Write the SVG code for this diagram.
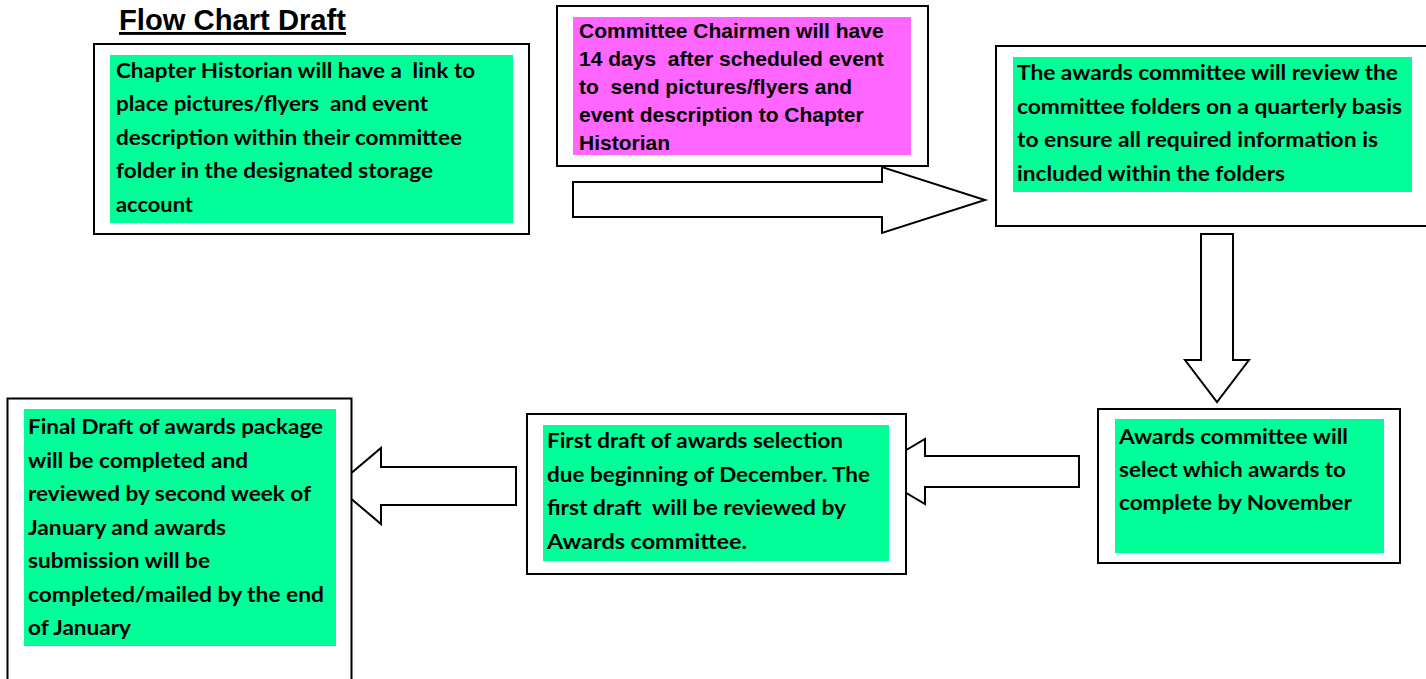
<svg xmlns="http://www.w3.org/2000/svg" width="1426" height="679" viewBox="0 0 1426 679">
<style>
.outer{fill:#fff;stroke:#000;stroke-width:2}
.green{fill:#00FF99}
.pink{fill:#FF66FF}
.arrow{fill:#fff;stroke:#000;stroke-width:2;stroke-linejoin:miter}
.cal{font-family:Lato,"Open Sans","DejaVu Sans",sans-serif;font-weight:bold;font-size:21px;fill:#000;white-space:pre}
.ari{font-family:"Liberation Sans",Arial,sans-serif;font-weight:bold;font-size:21px;fill:#000;white-space:pre}
.title{font-family:"Liberation Sans",Arial,sans-serif;font-weight:bold;font-size:29px;fill:#000;text-decoration:underline}
</style>
<rect width="1426" height="679" fill="#fff"/>
<text class="title" x="119" y="30" textLength="227" lengthAdjust="spacingAndGlyphs">Flow Chart Draft</text>
<g id="connectors">
<polygon class="arrow" points="573,182 882,182 882,167 985,200 882,233 882,217 573,217"/>
<polygon class="arrow" points="1201,234 1233,234 1233,360 1249,360 1217,402 1185,360 1201,360"/>
<polygon class="arrow" points="1079,456 925,456 925,439 870,471.5 925,504 925,487 1079,487"/>
<polygon class="arrow" points="516,467 381,467 381,448 336,486 381,524 381,505 516,505"/>
</g>
<g id="n1">
<rect class="outer" x="94" y="44" width="435" height="190"/>
<rect class="green" x="110" y="55" width="403" height="168"/>
<text class="cal" xml:space="preserve" x="116" y="78" textLength="359" lengthAdjust="spacingAndGlyphs">Chapter Historian will have a  link to</text>
<text class="cal" xml:space="preserve" x="116" y="111" textLength="312" lengthAdjust="spacingAndGlyphs">place pictures/flyers  and event</text>
<text class="cal" xml:space="preserve" x="116" y="145" textLength="346" lengthAdjust="spacingAndGlyphs">description within their committee</text>
<text class="cal" xml:space="preserve" x="116" y="178" textLength="317" lengthAdjust="spacingAndGlyphs">folder in the designated storage</text>
<text class="cal" xml:space="preserve" x="116" y="212" textLength="77" lengthAdjust="spacingAndGlyphs">account</text>
</g>
<g id="n2">
<rect class="outer" x="557" y="6" width="371" height="160"/>
<rect class="pink" x="573" y="17" width="338" height="138"/>
<text class="ari" xml:space="preserve" x="579" y="38">Committee Chairmen will have</text>
<text class="ari" xml:space="preserve" x="579" y="66">14 days  after scheduled event</text>
<text class="ari" xml:space="preserve" x="579" y="94">to  send pictures/flyers and</text>
<text class="ari" xml:space="preserve" x="579" y="122">event description to Chapter</text>
<text class="ari" xml:space="preserve" x="579" y="150">Historian</text>
</g>
<g id="n3">
<rect class="outer" x="996" y="46" width="440" height="180"/>
<rect class="green" x="1013" y="57" width="399" height="135"/>
<text class="cal" xml:space="preserve" x="1017" y="80" textLength="381" lengthAdjust="spacingAndGlyphs">The awards committee will review the</text>
<text class="cal" xml:space="preserve" x="1017" y="114" textLength="385" lengthAdjust="spacingAndGlyphs">committee folders on a quarterly basis</text>
<text class="cal" xml:space="preserve" x="1017" y="147" textLength="361" lengthAdjust="spacingAndGlyphs">to ensure all required information is</text>
<text class="cal" xml:space="preserve" x="1017" y="181" textLength="268" lengthAdjust="spacingAndGlyphs">included within the folders</text>
</g>
<g id="n4">
<rect class="outer" x="1098" y="409" width="302" height="154"/>
<rect class="green" x="1115" y="419" width="269" height="134"/>
<text class="cal" xml:space="preserve" x="1119" y="444" textLength="229" lengthAdjust="spacingAndGlyphs">Awards committee will</text>
<text class="cal" xml:space="preserve" x="1119" y="477" textLength="227" lengthAdjust="spacingAndGlyphs">select which awards to</text>
<text class="cal" xml:space="preserve" x="1119" y="510" textLength="233" lengthAdjust="spacingAndGlyphs">complete by November</text>
</g>
<g id="n5">
<rect class="outer" x="527" y="414" width="379" height="160"/>
<rect class="green" x="543" y="425" width="346" height="136"/>
<text class="cal" xml:space="preserve" x="547" y="448" textLength="296" lengthAdjust="spacingAndGlyphs">First draft of awards selection</text>
<text class="cal" xml:space="preserve" x="547" y="482" textLength="323" lengthAdjust="spacingAndGlyphs">due beginning of December. The</text>
<text class="cal" xml:space="preserve" x="547" y="515" textLength="299" lengthAdjust="spacingAndGlyphs">first draft  will be reviewed by</text>
<text class="cal" xml:space="preserve" x="547" y="549" textLength="200" lengthAdjust="spacingAndGlyphs">Awards committee.</text>
</g>
<g id="n6">
<rect class="outer" x="7.5" y="398.5" width="344" height="300"/>
<rect class="green" x="24" y="409" width="312" height="237"/>
<text class="cal" xml:space="preserve" x="28" y="434" textLength="295" lengthAdjust="spacingAndGlyphs">Final Draft of awards package</text>
<text class="cal" xml:space="preserve" x="28" y="468" textLength="220" lengthAdjust="spacingAndGlyphs">will be completed and</text>
<text class="cal" xml:space="preserve" x="28" y="501" textLength="283" lengthAdjust="spacingAndGlyphs">reviewed by second week of</text>
<text class="cal" xml:space="preserve" x="28" y="535" textLength="198" lengthAdjust="spacingAndGlyphs">January and awards</text>
<text class="cal" xml:space="preserve" x="28" y="568" textLength="182" lengthAdjust="spacingAndGlyphs">submission will be</text>
<text class="cal" xml:space="preserve" x="28" y="602" textLength="296" lengthAdjust="spacingAndGlyphs">completed/mailed by the end</text>
<text class="cal" xml:space="preserve" x="28" y="635" textLength="103" lengthAdjust="spacingAndGlyphs">of January</text>
</g>
</svg>
